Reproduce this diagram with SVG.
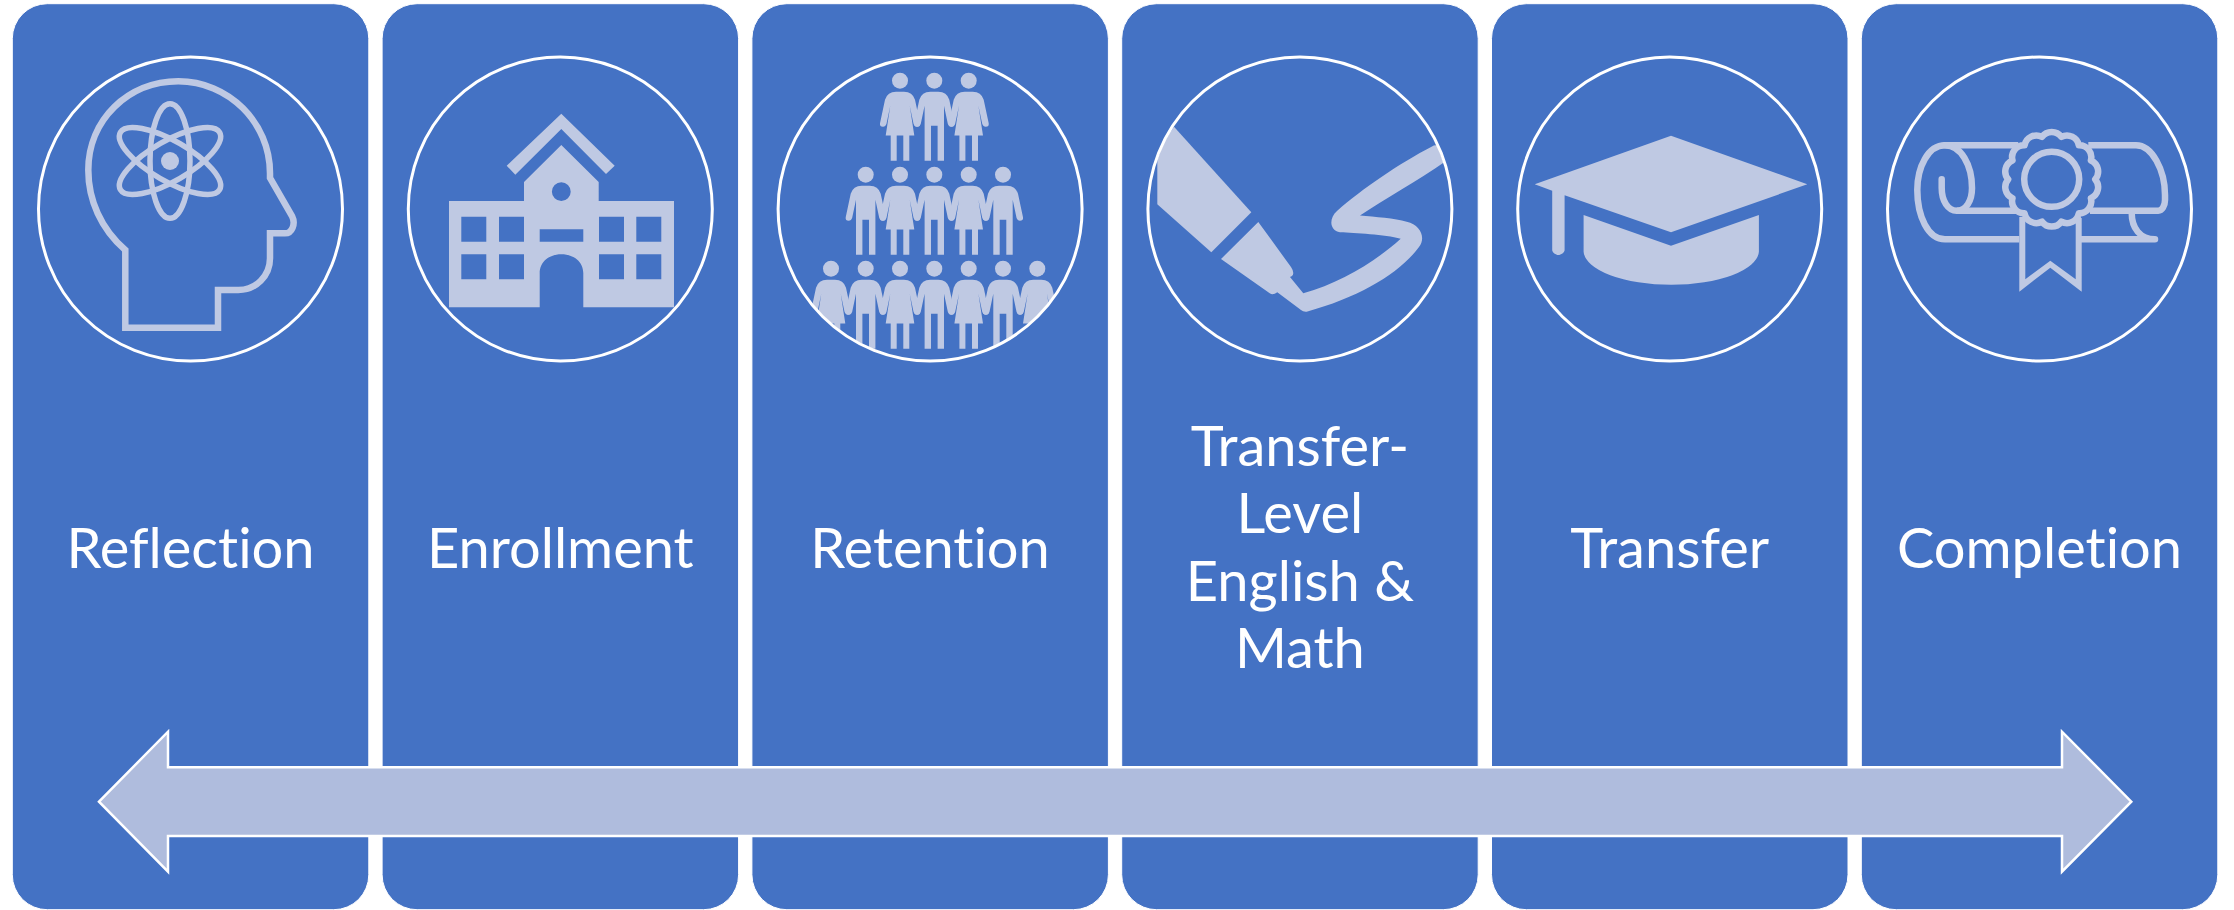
<svg xmlns="http://www.w3.org/2000/svg" width="2234" height="910" viewBox="0 0 2234 910">
<style>
.card{fill:#4472C4;stroke:#fff;stroke-width:1}
.ring{fill:none;stroke:#fff;stroke-width:3}
.ico{fill:#BFC9E3}
.odd{fill:#BFC9E3;fill-rule:evenodd}
.line{fill:none;stroke:#BFC9E3;stroke-width:6.500;stroke-linejoin:miter}
.round{stroke-linecap:round;stroke-linejoin:round}
.thin{stroke-width:5.500}
.lbl{font-family:"Lato","Liberation Sans",sans-serif;font-size:56px;font-variant-ligatures:none;fill:#fff;text-anchor:middle}
.arrow{fill:#AFBCDD;stroke:#fff;stroke-width:2.500}
</style>
<defs>
<g id="male"><circle cx="0" cy="0" r="8"/><path d="M-3.300 45V80H-9.700V25L-13.500 43Q-14.500 46-17 46Q-20.500 46-20 42.500L-15 19Q-12.500 11-4 11H4Q12.500 11 15 19L20 42.500Q20.500 46 17 46Q14.500 46 13.500 43L9.700 25V80H3.300V45Z"/></g>
<g id="female"><circle cx="0" cy="0" r="8"/><path d="M-3.300 54.700V80H-9.300V54.700H-14.300L-9.700 25L-13.500 43Q-14.500 46-17 46Q-20.500 46-20 42.500L-15 19Q-12.500 11-4 11H4Q12.500 11 15 19L20 42.500Q20.500 46 17 46Q14.500 46 13.500 43L9.700 25L14.300 54.700H9.300V80H3.300V54.700Z"/></g>
<clipPath id="c3"><circle cx="930.100" cy="209" r="151"/></clipPath>
<clipPath id="c4"><circle cx="1299.900" cy="209" r="151"/></clipPath>
</defs>

<g id="node-reflection">
<rect class="card" x="12.300" y="3.700" width="356.500" height="906" rx="35"/>
<circle class="ring" cx="190.500" cy="209" r="152"/>
<path class="line" d="M125.300 327.700V250C101 229 88.300 200 88.300 170C88.300 120 128 81.300 178.300 81.300C228 81.300 270 122 270 173.300V178L292 216C296 224 292 233.300 285 233.300H270V258.300C270 276 256 290 238.300 290H218V327.700Z"/>
<g transform="translate(170 161)">
<circle class="ico" r="9"/>
<ellipse class="line thin" rx="20" ry="57.300"/>
<ellipse class="line thin" rx="20" ry="57.300" transform="rotate(60)"/>
<ellipse class="line thin" rx="20" ry="57.300" transform="rotate(-60)"/>
</g>
<text class="lbl" x="190.500" y="567.700">Reflection</text>
</g>

<g id="node-enrollment">
<rect class="card" x="382.100" y="3.700" width="356.500" height="906" rx="35"/>
<circle class="ring" cx="560.300" cy="209" r="152"/>
<path class="ico" d="M561.300 113.700L614.700 165.700L606 174L561.300 129L515.300 174.700L506.700 165.700Z"/>
<path class="odd" d="M449 201H524V182L561.300 145L598.700 182V201H674V307.300H583.300V273.300C583.300 262 574 254.300 561.300 254.300C549 254.300 539.700 262 539.700 273.300V307.300H449Z
M561.300 182.300A9.400 9.400 0 1 0 561.300 201.100A9.400 9.400 0 1 0 561.300 182.300Z
M461.300 216.700H486.300V241.700H461.300Z M499 216.700H524V241.700H499Z M599 216.700H624V241.700H599Z M636.300 216.700H661.300V241.700H636.300Z
M461.300 254.300H486.300V279.300H461.300Z M499 254.300H524V279.300H499Z M599 254.300H624V279.300H599Z M636.300 254.300H661.300V279.300H636.300Z
M539.700 229.300H583.300V241.700H539.700Z"/>
<text class="lbl" x="560.300" y="567.700">Enrollment</text>
</g>

<g id="node-retention">
<rect class="card" x="751.900" y="3.700" width="356.500" height="906" rx="35"/>
<g class="ico" clip-path="url(#c3)">
<use href="#female" x="900" y="80.700"/><use href="#male" x="934.300" y="80.700"/><use href="#female" x="968.700" y="80.700"/>
<use href="#male" x="865.700" y="174.700"/><use href="#female" x="900" y="174.700"/><use href="#male" x="934.300" y="174.700"/><use href="#female" x="968.700" y="174.700"/><use href="#male" x="1003" y="174.700"/>
<use href="#female" x="831" y="268.700"/><use href="#male" x="865.700" y="268.700"/><use href="#female" x="900" y="268.700"/><use href="#male" x="934.300" y="268.700"/><use href="#female" x="968.700" y="268.700"/><use href="#male" x="1003" y="268.700"/><use href="#female" x="1037.300" y="268.700"/>
</g>
<circle class="ring" cx="930.100" cy="209" r="152"/>
<text class="lbl" x="930.100" y="567.700">Retention</text>
</g>

<g id="node-transfer-level">
<rect class="card" x="1121.700" y="3.700" width="356.500" height="906" rx="35"/>
<g clip-path="url(#c4)">
<path class="ico" d="M1174 126.700L1251.300 212.300L1211.300 252.300L1157.300 204.300V156.700A152 152 0 0 1 1174 126.700Z"/>
<path class="ico" d="M1258.300 222L1291 267Q1295 273 1292 276L1290 277L1303.300 293.300C1340 283 1375 262 1400.700 238.700C1385 234.500 1355 233 1340 232.300C1329 230 1329 218 1337 211C1362 189 1400 163 1432 146.500Q1436 144 1439 147L1446 161C1417 181 1385 199 1360 215.500C1375 217 1395 218 1406.700 221.700C1421 225 1426 238 1419 247C1400 273 1360 297 1306.700 311.700Q1303 312 1301 310L1277.300 292.300Q1272 296 1268.300 292.300L1221 259Z"/>
</g>
<circle class="ring" cx="1299.900" cy="209" r="152"/>
<text class="lbl" x="1299.900" y="466">Transfer-</text>
<text class="lbl" x="1299.900" y="533.400">Level</text>
<text class="lbl" x="1299.900" y="600.700">English &amp;</text>
<text class="lbl" x="1299.900" y="668">Math</text>
</g>

<g id="node-transfer">
<rect class="card" x="1491.500" y="3.700" width="356.500" height="906" rx="35"/>
<circle class="ring" cx="1669.700" cy="209" r="152"/>
<path class="ico" d="M1671 135.700L1807.300 184.300L1671 232.300L1564.600 195.300V250C1564.600 252.500 1561 255 1558.400 255C1555.800 255 1552.200 252.500 1552.200 250V190.700L1534.700 184.300Z"/>
<path class="ico" d="M1583.600 215L1671 245.700L1758.900 215V251.700A87.700 34.300 0 0 1 1583.600 251.700Z"/>
<text class="lbl" x="1669.700" y="567.700">Transfer</text>
</g>

<g id="node-completion">
<rect class="card" x="1861.300" y="3.700" width="356.500" height="906" rx="35"/>
<circle class="ring" cx="2039.500" cy="209" r="152"/>
<path class="line" d="M2018.300 145.300H1945C1928 145.300 1917.300 167 1917.300 190C1917.300 216 1928 239.300 1945 239.300H2019.300"/>
<path class="line round" d="M1941.700 179.300V188C1941.700 201 1948 210.700 1956.700 210.700C1966 210.700 1972 201 1972 188C1972 165 1961 145.300 1945 145.300"/>
<path class="line" d="M1956.700 210.700H2016.700"/>
<path class="line" d="M2088.300 145.300H2136C2152 145.300 2165 170 2165 195V200C2165 206 2162 210.700 2158.300 210.700H2090"/>
<path class="line round" d="M2131.700 212.700C2131.700 228 2140 239.300 2155 239.300H2080"/>
<path class="ico" d="M2019.300 217V291.700L2050.300 267.700L2081.700 291.700V218H2075.700V279.300L2050.300 260.700L2025.300 279.300V217Z"/>
<g transform="translate(2051.700 179.300)">
<circle class="line" r="27.500"/>
<path class="line round" d="M-9.680-42.410A12 12 0 0 1 9.680-42.410A12 12 0 0 1 27.120-34.010A12 12 0 0 1 39.190-18.870A12 12 0 0 1 43.500 0A12 12 0 0 1 39.190 18.870A12 12 0 0 1 27.120 34.010A12 12 0 0 1 9.680 42.410A12 12 0 0 1-9.680 42.410A12 12 0 0 1-27.120 34.010A12 12 0 0 1-39.190 18.870A12 12 0 0 1-43.500 0A12 12 0 0 1-39.190-18.870A12 12 0 0 1-27.120-34.010A12 12 0 0 1-9.680-42.410Z"/>
</g>
<text class="lbl" x="2039.500" y="567.700">Completion</text>
</g>

<g id="connectors">
<path class="arrow" d="M99 801.700L168 731.700V767.300H2062V731.700L2131.300 801.700L2062 871.700V836H168V871.700Z"/>
</g>
</svg>
